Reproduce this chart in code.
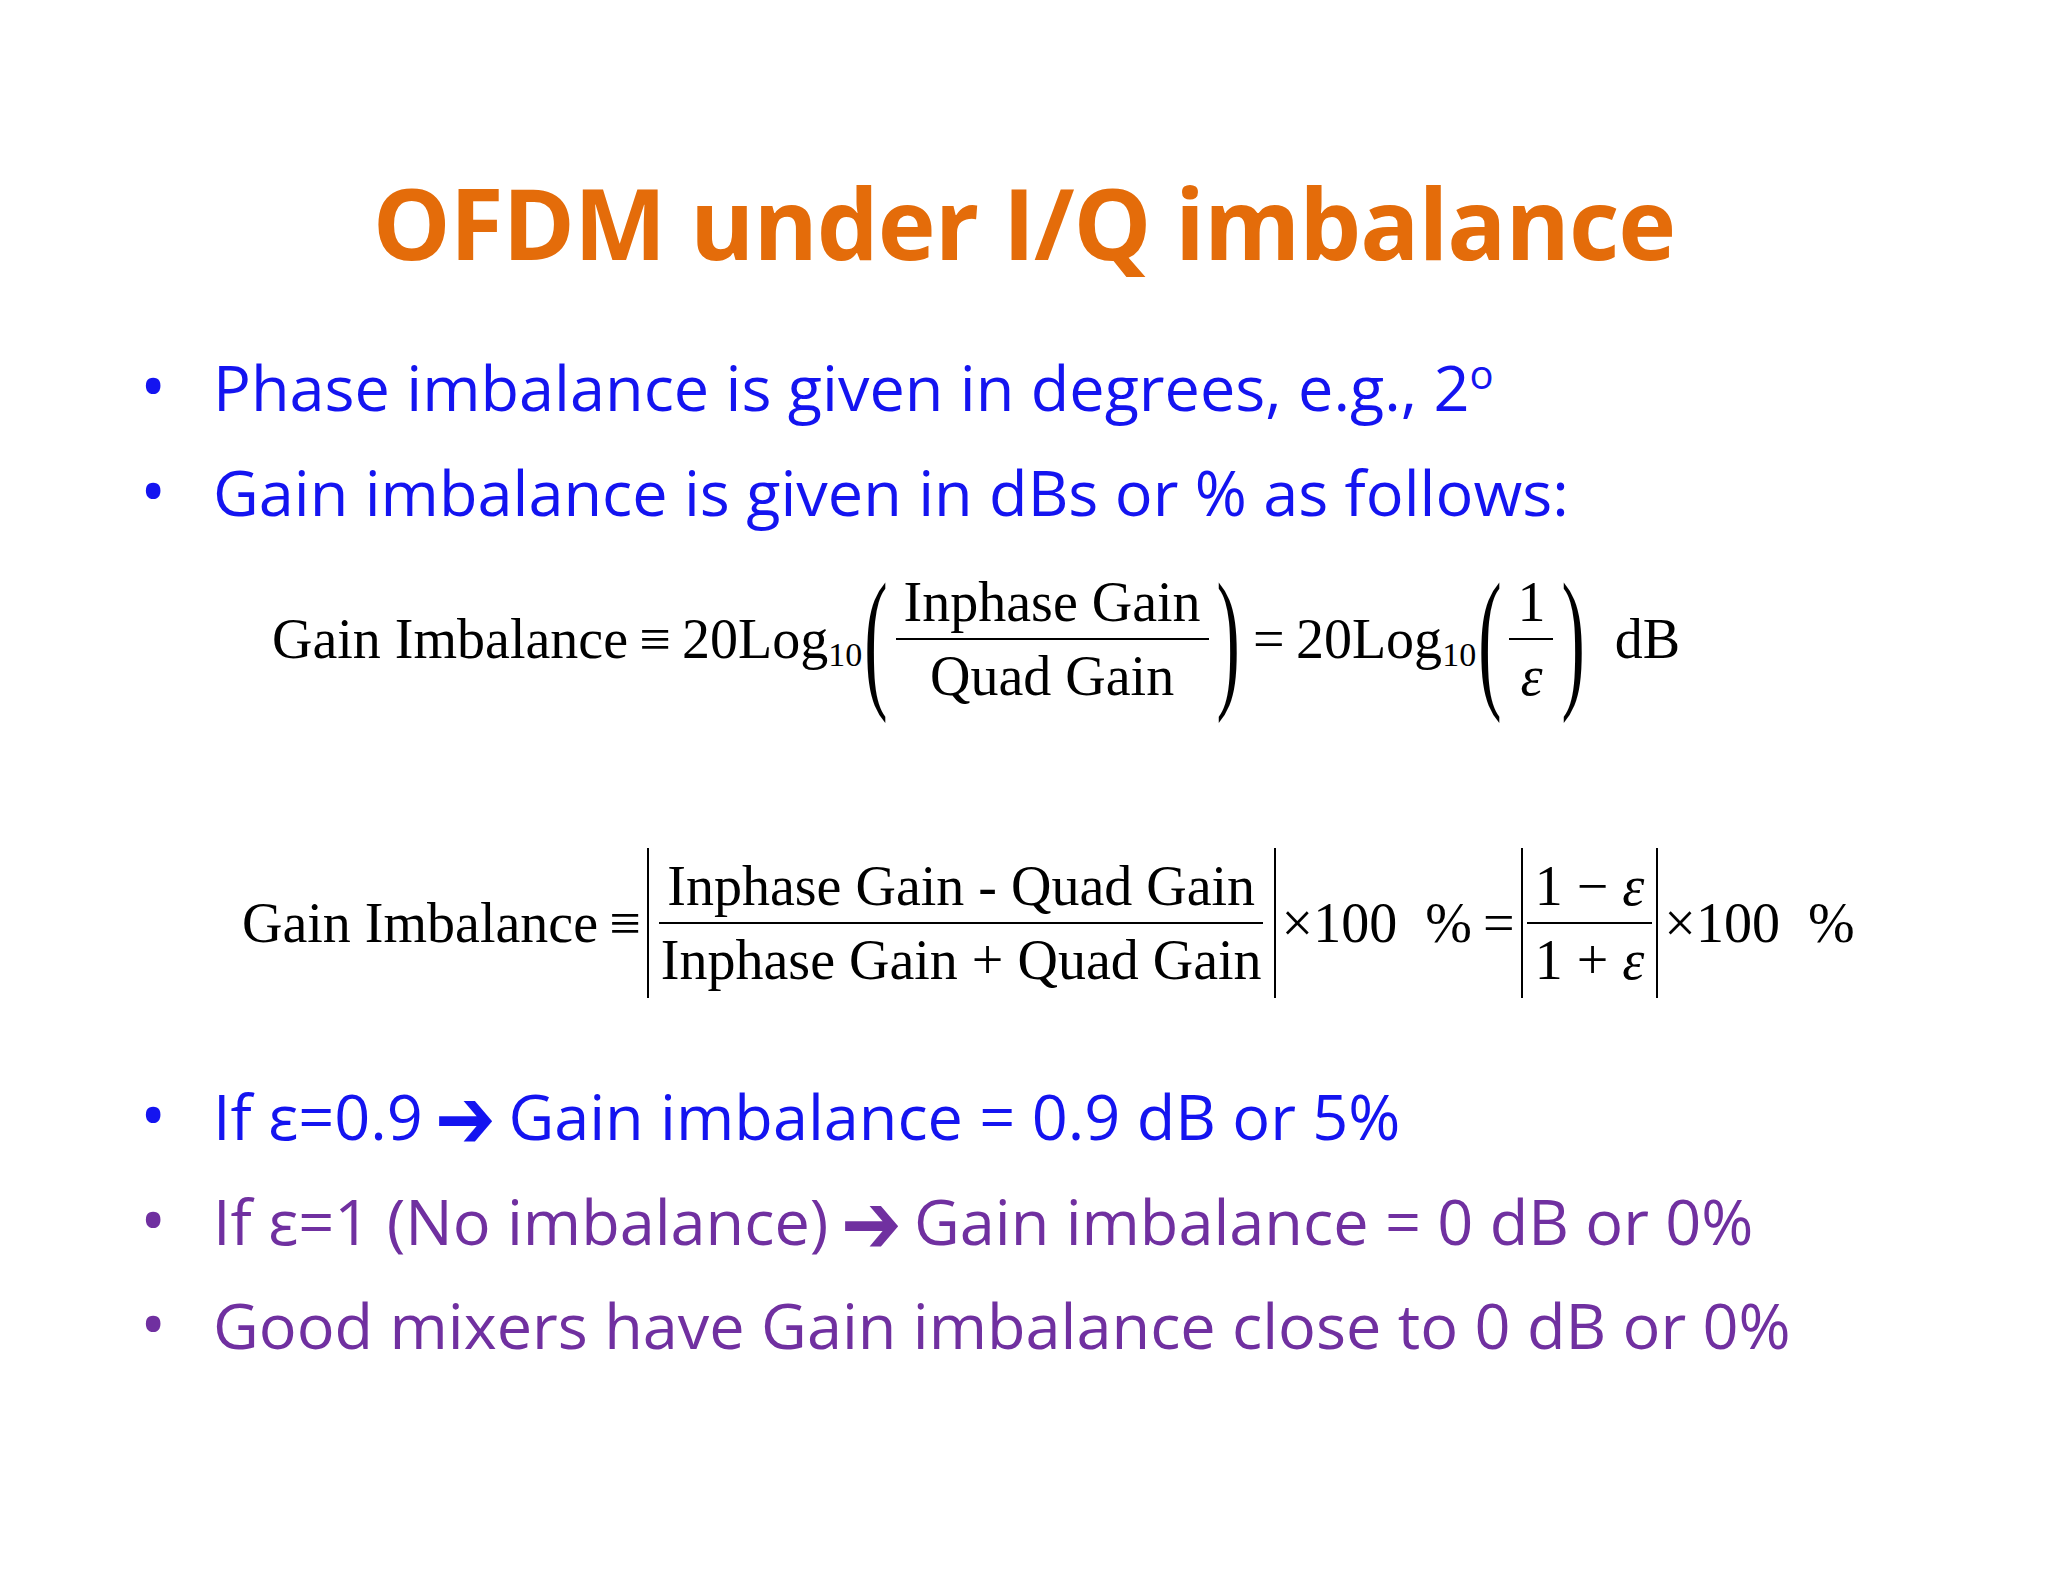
<!DOCTYPE html>
<html><head><meta charset="utf-8">
<script src="https://cdn.jsdelivr.net/npm/chart.js"></script>
<style>
html,body{margin:0;padding:0;background:#fff;width:2048px;height:1582px;overflow:hidden}
.t{position:absolute;white-space:nowrap}
#title{left:0;width:2048px;text-align:center;top:155px;font:bold 98px "Open Sans",sans-serif;color:#E46C0A;letter-spacing:-1px}
.b{font:63px "Open Sans",sans-serif;left:140px}
.b span.d{display:inline-block;width:73px;font-size:70px}
.blue{color:#1414F0}.purp{color:#7030A0}
.ar{display:inline-block;font-family:'DejaVu Sans';font-weight:bold;transform:scale(1.15,1.35)}
.eq{font:56px "Liberation Serif",serif;color:#000;display:flex;align-items:center}
.fr{display:inline-flex;flex-direction:column;align-items:center;margin:0 6px}
.fr .n{border-bottom:2px solid #000;padding:0 8px 4px}
.fr .m{padding:4px 8px 0}
.par{display:inline-block;font-size:70px;transform:scaleY(2.2);margin:0 2px}
.abs{border-left:2px solid #000;border-right:2px solid #000;padding:6px 4px;margin:0 6px}
.sb{font-size:34px;position:relative;top:16px}
</style></head><body>
<div id="title" class="t">OFDM under I/Q imbalance</div>
<div class="t b blue" style="top:336px"><span class="d">•</span>Phase imbalance is given in degrees, e.g., 2<sup style="font-size:40px">o</sup></div>
<div class="t b blue" style="top:441px"><span class="d">•</span>Gain imbalance is given in dBs or % as follows:</div>
<div class="t eq" style="left:272px;top:570px">Gain Imbalance&thinsp;≡&thinsp;20Log<span class="sb">10</span><span class="par">(</span><span class="fr"><span class="n">Inphase Gain</span><span class="m">Quad Gain</span></span><span class="par">)</span>&thinsp;=&thinsp;20Log<span class="sb">10</span><span class="par">(</span><span class="fr"><span class="n">1</span><span class="m"><i>ε</i></span></span><span class="par">)</span>&nbsp;&nbsp;dB</div>
<div class="t eq" style="left:242px;top:848px">Gain Imbalance&thinsp;≡<span class="abs"><span class="fr" style="margin:0"><span class="n">Inphase Gain - Quad Gain</span><span class="m">Inphase Gain + Quad Gain</span></span></span>×100&nbsp;&nbsp;%&thinsp;=<span class="abs"><span class="fr" style="margin:0"><span class="n">1 − <i>ε</i></span><span class="m">1 + <i>ε</i></span></span></span>×100&nbsp;&nbsp;%</div>
<div class="t b blue" style="top:1065px"><span class="d">•</span>If ε=0.9 <span class="ar">➔</span> Gain imbalance = 0.9 dB or 5%</div>
<div class="t b purp" style="top:1170px"><span class="d">•</span>If ε=1 (No imbalance) <span class="ar">➔</span> Gain imbalance = 0 dB or 0%</div>
<div class="t b purp" style="top:1274px"><span class="d">•</span>Good mixers have Gain imbalance close to 0 dB or 0%</div>
</body></html>
